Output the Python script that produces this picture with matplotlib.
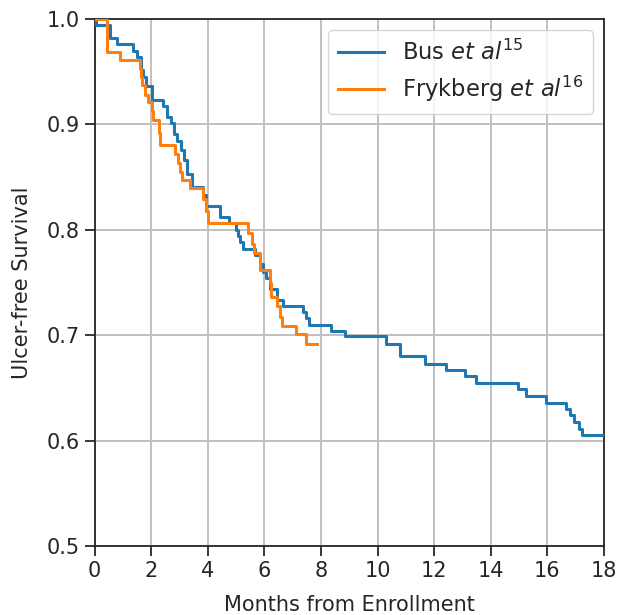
import matplotlib
matplotlib.use("Agg")
import matplotlib.pyplot as plt
import numpy as np

# Bus et al (blue) step times (months) and survival after each step
bus_t = [0.0, 0.05, 0.55, 0.79, 1.37, 1.49, 1.65, 1.70, 1.80, 2.02, 2.43, 2.55,
         2.68, 2.80, 2.92, 3.05, 3.15, 3.25, 3.43, 3.83, 3.92, 4.42, 4.75,
         5.00, 5.07, 5.15, 5.25, 5.66, 5.83, 5.95, 6.05, 6.19, 6.45, 6.66,
         7.36, 7.48, 7.58, 8.36, 8.83, 10.31, 10.78, 11.66, 12.42, 13.07,
         13.46, 14.95, 15.25, 15.95, 16.66, 16.80, 16.95, 17.10, 17.22, 18.0]
bus_s = [1.0, 0.994, 0.982, 0.976, 0.970, 0.964, 0.952, 0.945, 0.936, 0.923,
         0.917, 0.907, 0.901, 0.891, 0.884, 0.876, 0.866, 0.853, 0.841, 0.833,
         0.823, 0.812, 0.806, 0.800, 0.794, 0.788, 0.782, 0.776, 0.768, 0.760,
         0.754, 0.744, 0.733, 0.728, 0.722, 0.716, 0.710, 0.704, 0.699, 0.692,
         0.680, 0.673, 0.667, 0.661, 0.655, 0.649, 0.642, 0.636, 0.630, 0.624,
         0.618, 0.611, 0.605, 0.605]

# Frykberg et al (orange)
fry_t = [0.0, 0.43, 0.90, 1.61, 1.64, 1.68, 1.79, 1.90, 2.03, 2.06, 2.28, 2.32,
         2.83, 2.95, 3.02, 3.10, 3.36, 3.83, 3.95, 4.02, 5.42, 5.55, 5.62,
         5.83, 6.18, 6.22, 6.45, 6.55, 6.62, 7.10, 7.48, 7.84]
fry_s = [1.0, 0.969, 0.961, 0.953, 0.945, 0.937, 0.928, 0.921, 0.913, 0.904,
         0.892, 0.880, 0.872, 0.863, 0.855, 0.847, 0.840, 0.829, 0.818, 0.806,
         0.797, 0.787, 0.778, 0.762, 0.750, 0.736, 0.728, 0.717, 0.709, 0.701,
         0.692, 0.692]

labels = [r'Bus $\mathit{et\ al}^{\mathrm{15}}$',
          r'Frykberg $\mathit{et\ al}^{\mathrm{16}}$']
x_ticks = list(range(0, 19, 2))
y_ticks = [0.5, 0.6, 0.7, 0.8, 0.9, 1.0]

fig = plt.figure(figsize=(6.19, 6.15), dpi=100)
W, H = 619, 615
ax = fig.add_axes([94.7 / W, (H - 546) / H, (604 - 94.7) / W, (546 - 19) / H])

ax.step(bus_t, bus_s, where='post', color='#1f77b4', lw=2.2, label=labels[0], zorder=3)
ax.step(fry_t, fry_s, where='post', color='#ff7f0e', lw=2.2, label=labels[1], zorder=4)

ax.set_xlim(0, 18)
ax.set_ylim(0.5, 1.0)
ax.set_xticks(x_ticks)
ax.set_yticks(y_ticks)
ax.grid(True, color='#c0c0c0', lw=1.4, zorder=0)
ax.set_axisbelow(True)
for sp in ax.spines.values():
    sp.set_color('#262626')
    sp.set_linewidth(1.3)
ax.tick_params(direction='out', length=7, width=1.3, color='#262626',
               labelsize=15, labelcolor='#262626', pad=4)
ax.set_ylabel('Ulcer-free Survival', fontsize=15, color='#262626', labelpad=10)
ax.set_xlabel('Months from Enrollment', fontsize=15, color='#262626', labelpad=10)

leg = ax.legend(loc='upper right', fontsize=16.3, frameon=True, fancybox=True,
                handlelength=2.0, borderpad=0.45, labelspacing=0.38,
                borderaxespad=0.0,
                bbox_to_anchor=((593 - 94.7) / 509.3, 1 - (30 - 19) / 527))
leg.get_frame().set_edgecolor('#cccccc')
leg.get_frame().set_linewidth(1.0)
for t in leg.get_texts():
    t.set_color('#262626')

fig.savefig('out.png', dpi=100)
